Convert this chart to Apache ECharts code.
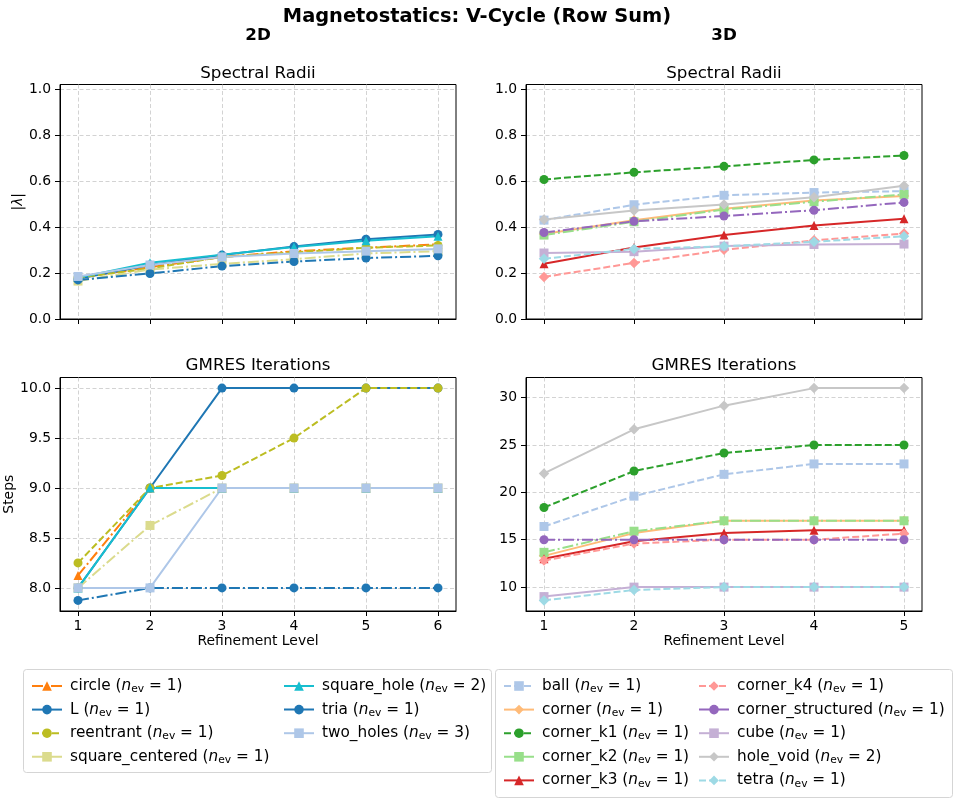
<!DOCTYPE html>
<html>
<head>
<meta charset="utf-8">
<script src="https://cdn.jsdelivr.net/npm/echarts@6/dist/echarts.min.js"></script>
<style>
html, body { margin: 0; padding: 0; background: #fff; }
#main { width: 960px; height: 806px; }
</style>
</head>
<body>
<div id="main"></div>
<script>
// refinement levels
var levels2D = [1, 2, 3, 4, 5, 6];
var levels3D = [1, 2, 3, 4, 5];

// meshes and number of eigenvalues
var names2D = ['circle', 'L', 'reentrant', 'square_centered', 'square_hole', 'tria', 'two_holes'];
var nev2D = [1, 1, 1, 1, 2, 1, 3];
var names3D = ['ball', 'corner', 'corner_k1', 'corner_k2', 'corner_k3', 'corner_k4',
    'corner_structured', 'cube', 'hole_void', 'tetra'];
var nev3D = [1, 1, 1, 1, 1, 1, 1, 1, 2, 1];

// spectral radii, 2D
var rho_circle = [0.18, 0.225, 0.27, 0.295, 0.31, 0.325];
var rho_L = [0.175, 0.235, 0.278, 0.315, 0.347, 0.368];
var rho_reentrant = [0.18, 0.22, 0.27, 0.29, 0.31, 0.32];
var rho_square_centered = [0.165, 0.215, 0.24, 0.26, 0.285, 0.295];
var rho_square_hole = [0.18, 0.245, 0.28, 0.313, 0.34, 0.36];
var rho_tria = [0.17, 0.198, 0.23, 0.25, 0.265, 0.275];
var rho_two_holes = [0.185, 0.235, 0.27, 0.285, 0.295, 0.305];

// GMRES iterations, 2D
var it_circle = [8.125, 9, 9, 9, 9, 9];
var it_L = [8, 9, 10, 10, 10, 10];
var it_reentrant = [8.25, 9, 9.125, 9.5, 10, 10];
var it_square_centered = [8, 8.625, 9, 9, 9, 9];
var it_square_hole = [8, 9, 9, 9, 9, 9];
var it_tria = [7.875, 8, 8, 8, 8, 8];
var it_two_holes = [8, 8, 9, 9, 9, 9];

// spectral radii, 3D
var rho_ball = [0.43, 0.497, 0.538, 0.55, 0.556];
var rho_corner = [0.37, 0.43, 0.48, 0.515, 0.535];
var rho_corner_k1 = [0.607, 0.638, 0.664, 0.692, 0.711];
var rho_corner_k2 = [0.365, 0.423, 0.476, 0.51, 0.542];
var rho_corner_k3 = [0.24, 0.311, 0.365, 0.407, 0.436];
var rho_corner_k4 = [0.183, 0.244, 0.301, 0.342, 0.372];
var rho_corner_structured = [0.376, 0.425, 0.448, 0.473, 0.507];
var rho_cube = [0.287, 0.293, 0.317, 0.324, 0.326];
var rho_hole_void = [0.433, 0.472, 0.498, 0.53, 0.58];
var rho_tetra = [0.262, 0.305, 0.316, 0.336, 0.36];

// GMRES iterations, 3D
var it_ball = [16.4, 19.6, 21.9, 23, 23];
var it_corner = [13.3, 15.7, 17, 17, 17];
var it_corner_k1 = [18.4, 22.25, 24.15, 25, 25];
var it_corner_k2 = [13.67, 15.9, 17, 17, 17];
var it_corner_k3 = [13.0, 14.85, 15.7, 16, 16];
var it_corner_k4 = [12.8, 14.6, 15, 15, 15.65];
var it_corner_structured = [15, 15, 15, 15, 15];
var it_cube = [9, 10, 10, 10, 10];
var it_hole_void = [22, 26.65, 29.15, 31, 31];
var it_tetra = [8.6, 9.7, 10, 10, 10];

// tick labels
var ticksRho = [0, 0.2, 0.4, 0.6, 0.8, 1.0];
var ticksIt2D = [8, 8.5, 9, 9.5, 10];
var ticksIt3D = [10, 15, 20, 25, 30];

var rho2D = { circle: rho_circle, L: rho_L, reentrant: rho_reentrant, square_centered: rho_square_centered,
    square_hole: rho_square_hole, tria: rho_tria, two_holes: rho_two_holes };
var it2D = { circle: it_circle, L: it_L, reentrant: it_reentrant, square_centered: it_square_centered,
    square_hole: it_square_hole, tria: it_tria, two_holes: it_two_holes };
var rho3D = { ball: rho_ball, corner: rho_corner, corner_k1: rho_corner_k1, corner_k2: rho_corner_k2,
    corner_k3: rho_corner_k3, corner_k4: rho_corner_k4, corner_structured: rho_corner_structured,
    cube: rho_cube, hole_void: rho_hole_void, tetra: rho_tetra };
var it3D = { ball: it_ball, corner: it_corner, corner_k1: it_corner_k1, corner_k2: it_corner_k2,
    corner_k3: it_corner_k3, corner_k4: it_corner_k4, corner_structured: it_corner_structured,
    cube: it_cube, hole_void: it_hole_void, tetra: it_tetra };

var FONT = 'DejaVu Sans';
var DASHED = [7, 3];
var DASHDOT = [11, 3, 2, 3];

// color, marker, line type
var look = {
    circle: ['#ff7f0e', 'triangle', DASHDOT],
    L: ['#1f77b4', 'circle', 'solid'],
    reentrant: ['#bcbd22', 'circle', DASHED],
    square_centered: ['#dbdb8d', 'rect', DASHDOT],
    square_hole: ['#17becf', 'triangle', 'solid'],
    tria: ['#1f77b4', 'circle', DASHDOT],
    two_holes: ['#aec7e8', 'rect', 'solid'],
    ball: ['#aec7e8', 'rect', DASHED],
    corner: ['#ffbb78', 'diamond', 'solid'],
    corner_k1: ['#2ca02c', 'circle', DASHED],
    corner_k2: ['#98df8a', 'rect', DASHDOT],
    corner_k3: ['#d62728', 'triangle', 'solid'],
    corner_k4: ['#ff9896', 'diamond', DASHED],
    corner_structured: ['#9467bd', 'circle', DASHDOT],
    cube: ['#c5b0d5', 'rect', 'solid'],
    hole_void: ['#c7c7c7', 'diamond', 'solid'],
    tetra: ['#9edae5', 'diamond', DASHED]
};

var nevOf = {};
names2D.forEach(function (n, i) { nevOf[n] = nev2D[i]; });
names3D.forEach(function (n, i) { nevOf[n] = nev3D[i]; });

// matplotlib-like 5% margins
function padded(table) {
    var lo = Infinity, hi = -Infinity;
    Object.keys(table).forEach(function (k) {
        table[k].forEach(function (v) { lo = Math.min(lo, v); hi = Math.max(hi, v); });
    });
    var m = (hi - lo) * 0.05;
    return [lo - m, hi + m];
}

function makeSeries(name, xs, ys, gi) {
    var s = look[name];
    return {
        name: name,
        type: 'line',
        xAxisIndex: gi,
        yAxisIndex: gi,
        data: xs.map(function (x, i) { return [x, ys[i]]; }),
        symbol: s[1],
        symbolSize: s[1] === 'diamond' ? 10.5 : 9,
        itemStyle: { color: s[0] },
        lineStyle: { color: s[0], width: 2, type: s[2] },
        animation: false
    };
}

var series = [];
names2D.forEach(function (n) { series.push(makeSeries(n, levels2D, rho2D[n], 0)); });
names3D.forEach(function (n) { series.push(makeSeries(n, levels3D, rho3D[n], 1)); });
names2D.forEach(function (n) { series.push(makeSeries(n, levels2D, it2D[n], 2)); });
names3D.forEach(function (n) { series.push(makeSeries(n, levels3D, it3D[n], 3)); });

var gridLine = { show: true, lineStyle: { color: '#c8c8c8', width: 0.8, type: [4, 2.5] } };
var tickStyle = { length: 5, lineStyle: { color: '#000', width: 1 } };
var labelFont = { fontFamily: FONT, fontSize: 13.9, color: '#000' };

function xAxisFor(gi, levels, showLabels) {
    var ax = {
        type: 'value', gridIndex: gi,
        min: levels[0] - (levels[levels.length - 1] - levels[0]) * 0.05,
        max: levels[levels.length - 1] + (levels[levels.length - 1] - levels[0]) * 0.05,
        axisLine: { show: true, onZero: false, lineStyle: { color: '#000', width: 1 } },
        axisTick: Object.assign({ show: true, customValues: levels }, tickStyle),
        axisLabel: Object.assign({ show: showLabels, customValues: levels, margin: 8 }, labelFont),
        splitLine: gridLine
    };
    if (showLabels) {
        ax.name = 'Refinement Level';
        ax.nameLocation = 'middle';
        ax.nameGap = 22;
        ax.nameTextStyle = { fontFamily: FONT, fontSize: 13.9, color: '#000' };
    }
    return ax;
}

function yAxisFor(gi, range, ticks, digits, name, nameGap) {
    var ax = {
        type: 'value', gridIndex: gi,
        min: range[0], max: range[1],
        axisLine: { show: true, onZero: false, lineStyle: { color: '#000', width: 1 } },
        axisTick: Object.assign({ show: true, customValues: ticks }, tickStyle),
        axisLabel: Object.assign({
            customValues: ticks, margin: 9,
            formatter: function (v) { return v.toFixed(digits); }
        }, labelFont),
        splitLine: gridLine
    };
    if (name) {
        ax.name = name;
        ax.nameLocation = 'middle';
        ax.nameGap = nameGap;
        ax.nameTextStyle = {
            fontFamily: FONT, fontSize: 13.9, color: '#000',
            rich: { u: { fontFamily: FONT, fontSize: 13.9 }, g: { fontFamily: FONT, fontSize: 13.9, fontStyle: 'italic' } }
        };
    }
    return ax;
}

var rhoRange = [0, 1.02];
var it2DRange = padded(it2D);
var it3DRange = padded(it3D);

var grids = [
    { left: 60, top: 84.5, width: 396, height: 234.5 },
    { left: 526, top: 84.5, width: 396, height: 234.5 },
    { left: 60, top: 377.5, width: 396, height: 233.5 },
    { left: 526, top: 377.5, width: 396, height: 233.5 }
].map(function (g) {
    return Object.assign({ show: true, borderColor: '#000', borderWidth: 1, backgroundColor: 'transparent' }, g);
});

function legendLabel(name) {
    return '{h|' + name + ' (}{i|n}{s|ev}{t| = ' + nevOf[name] + ')}';
}

var legendRich = {
    h: { fontFamily: FONT, fontSize: 15.3, color: '#000', lineHeight: 18, padding: [0, 0, 0, 3] },
    t: { fontFamily: FONT, fontSize: 15.3, color: '#000', lineHeight: 18 },
    i: { fontFamily: FONT, fontSize: 15.3, color: '#000', fontStyle: 'italic', lineHeight: 18 },
    s: { fontFamily: FONT, fontSize: 10.7, color: '#000', lineHeight: 18, padding: [7, 0, 0, 0] }
};

function legendCol(left, top, data) {
    return {
        orient: 'vertical', left: left, top: top, padding: 0,
        itemWidth: 30, itemHeight: 12, itemGap: 5.6,
        selectedMode: false, data: data,
        formatter: legendLabel,
        textStyle: { fontFamily: FONT, fontSize: 15.3, color: '#000', rich: legendRich }
    };
}

function titleAt(text, x, top, size, bold) {
    return {
        text: text, left: x, top: top, textAlign: 'center', padding: 0,
        textStyle: { fontFamily: FONT, fontSize: size, fontWeight: bold ? 'bold' : 'normal', color: '#000' }
    };
}

var myChart = echarts.init(document.getElementById('main'), null, { renderer: 'canvas' });

var option = {
    backgroundColor: '#fff',
    animation: false,
    title: [
        titleAt('Magnetostatics: V-Cycle (Row Sum)', 477, 7, 19.4, true),
        titleAt('2D', 258, 27, 16.7, true),
        titleAt('3D', 724, 27, 16.7, true),
        titleAt('Spectral Radii', 258, 65, 16.7, false),
        titleAt('Spectral Radii', 724, 65, 16.7, false),
        titleAt('GMRES Iterations', 258, 357, 16.7, false),
        titleAt('GMRES Iterations', 724, 357, 16.7, false)
    ],
    grid: grids,
    xAxis: [
        xAxisFor(0, levels2D, false),
        xAxisFor(1, levels3D, false),
        xAxisFor(2, levels2D, true),
        xAxisFor(3, levels3D, true)
    ],
    yAxis: [
        yAxisFor(0, rhoRange, ticksRho, 1, '{u||}{g|λ}{u||}', 28),
        yAxisFor(1, rhoRange, ticksRho, 1),
        yAxisFor(2, it2DRange, ticksIt2D, 1, 'Steps', 38),
        yAxisFor(3, it3DRange, ticksIt3D, 0)
    ],
    legend: [
        legendCol(31, 677, names2D.slice(0, 4)),
        legendCol(283, 677, names2D.slice(4)),
        legendCol(503, 677, names3D.slice(0, 5)),
        legendCol(698, 677, names3D.slice(5))
    ],
    graphic: [
        { type: 'rect', z: 1, shape: { x: 23.5, y: 669.5, width: 468, height: 103, r: 3 },
          style: { fill: '#fff', stroke: '#d5d5d5', lineWidth: 1 } },
        { type: 'rect', z: 1, shape: { x: 495.5, y: 669.5, width: 457, height: 128, r: 3 },
          style: { fill: '#fff', stroke: '#d5d5d5', lineWidth: 1 } }
    ],
    series: series
};

myChart.setOption(option);
</script>
</body>
</html>
